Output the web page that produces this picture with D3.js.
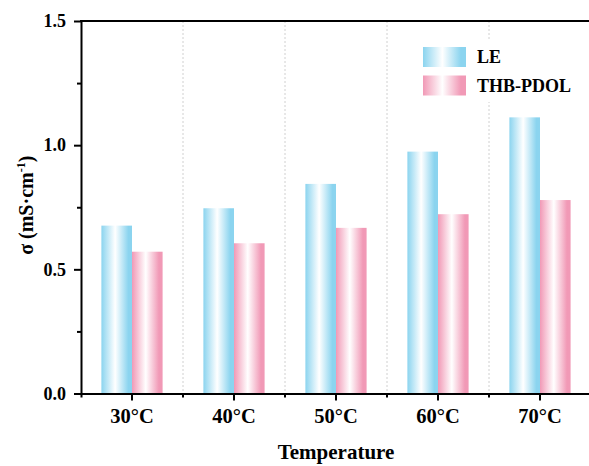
<!DOCTYPE html>
<html>
<head>
<meta charset="utf-8">
<script src="https://cdn.jsdelivr.net/npm/d3@7"></script>
<style>
  html, body { margin: 0; padding: 0; background: #fff; }
  svg { display: block; }
  text { font-family: "Liberation Serif", "Times New Roman", serif; font-weight: bold; fill: #000; }
</style>
</head>
<body>
<svg id="chart" width="589" height="466"></svg>
<script>
// Ionic conductivity at each temperature
const categories = ["30°C", "40°C", "50°C", "60°C", "70°C"];
const seriesNames = ["LE", "THB-PDOL"];
const leValues = [0.676, 0.746, 0.844, 0.974, 1.112];
const thbValues = [0.571, 0.605, 0.667, 0.722, 0.779];
const yTicks = [0.0, 0.5, 1.0, 1.5];
const yMinorTicks = [0.25, 0.75, 1.25];

const palette = { "LE": "#8bd4ef", "THB-PDOL": "#f199b6" };
const seriesValues = { "LE": leValues, "THB-PDOL": thbValues };

const svg = d3.select("#chart");
const plotL = 81, plotR = 591, plotT = 21, plotB = 393.5;

const x = d3.scaleBand().domain(categories).range([plotL, plotR])
  .paddingInner(0.4).paddingOuter(0.2);
const xs = d3.scaleBand().domain(seriesNames).range([0, x.bandwidth()]);
const y = d3.scaleLinear().domain([0, 1.5]).range([plotB, plotT]);

// horizontal shading gradients for bars
const defs = svg.append("defs");
seriesNames.forEach((name, i) => {
  const g = defs.append("linearGradient").attr("id", "grad" + i)
    .attr("x1", "0%").attr("x2", "100%").attr("y1", "0%").attr("y2", "0%");
  g.append("stop").attr("offset", "0%").attr("stop-color", palette[name]);
  g.append("stop").attr("offset", "45%").attr("stop-color", "#ffffff");
  g.append("stop").attr("offset", "88%").attr("stop-color", palette[name]);
  g.append("stop").attr("offset", "100%").attr("stop-color", palette[name]);
});

// dashed separators between temperature groups
const step = x.step();
const separators = categories.slice(1).map(c => x(c) - (step - x.bandwidth()) / 2);
svg.append("g").selectAll("line").data(separators).join("line")
  .attr("x1", d => d).attr("x2", d => d)
  .attr("y1", plotT).attr("y2", plotB)
  .attr("stroke", "#c4c4c4").attr("stroke-width", 0.8)
  .attr("stroke-dasharray", "2,2");

// bars
const groups = svg.append("g").selectAll("g").data(categories).join("g")
  .attr("transform", c => `translate(${x(c)},0)`);
seriesNames.forEach((name, i) => {
  groups.append("rect")
    .attr("x", xs(name))
    .attr("width", xs.bandwidth())
    .attr("y", (c, j) => y(seriesValues[name][j]))
    .attr("height", (c, j) => plotB - y(seriesValues[name][j]))
    .attr("fill", `url(#grad${i})`);
});

// axes
const yAxis = d3.axisLeft(y).tickValues(yTicks).tickFormat(d3.format(".1f"))
  .tickSize(7).tickPadding(8).tickSizeOuter(0);
const gy = svg.append("g").attr("transform", `translate(${plotL},0)`).call(yAxis);
gy.select(".domain").attr("stroke-width", 2);
gy.selectAll(".tick line").attr("stroke-width", 2);
gy.selectAll(".tick text").style("font-size", "18px");
svg.append("g").attr("transform", `translate(${plotL},0)`)
  .call(d3.axisLeft(y).tickValues(yMinorTicks).tickSize(4).tickFormat(""))
  .call(g => { g.select(".domain").remove(); g.selectAll("line").attr("stroke-width", 2); });

const xAxis = d3.axisBottom(x).tickSize(7).tickPadding(8).tickSizeOuter(4);
const gx = svg.append("g").attr("transform", `translate(0,${plotB})`).call(xAxis);
gx.select(".domain").attr("stroke-width", 2);
gx.selectAll(".tick line").attr("stroke-width", 2);
gx.selectAll(".tick text").style("font-size", "20.5px");
svg.append("g").attr("transform", `translate(0,${plotB})`)
  .selectAll("line").data(separators).join("line")
  .attr("x1", d => d).attr("x2", d => d).attr("y1", 0).attr("y2", 4)
  .attr("stroke", "#000").attr("stroke-width", 2);

// frame top and right
svg.append("line").attr("x1", plotL - 1).attr("x2", plotR).attr("y1", plotT).attr("y2", plotT)
  .attr("stroke", "#000").attr("stroke-width", 2);
svg.append("line").attr("x1", plotR).attr("x2", plotR).attr("y1", plotT).attr("y2", plotB)
  .attr("stroke", "#000").attr("stroke-width", 2);

// axis titles
svg.append("text").attr("x", (plotL + plotR) / 2).attr("y", 459)
  .attr("text-anchor", "middle").style("font-size", "21px").text("Temperature");
const yt = svg.append("text")
  .attr("transform", `translate(33,${(plotT + plotB) / 2 - 2}) rotate(-90)`)
  .attr("text-anchor", "middle").style("font-size", "20px");
yt.append("tspan").text("σ (mS·cm");
yt.append("tspan").attr("dy", -8).style("font-size", "12px").text("-1");
yt.append("tspan").attr("dy", 8).text(")");

// legend
const lg = svg.append("g").attr("transform", "translate(415,40)");
lg.append("rect").attr("x", 0).attr("y", 0).attr("width", 170).attr("height", 62).attr("fill", "#fff");
seriesNames.forEach((name, i) => {
  const row = lg.append("g").attr("transform", `translate(8,${7 + i * 28.5})`);
  row.append("rect").attr("width", 43).attr("height", 20).attr("fill", `url(#grad${i})`);
  row.append("text").attr("x", 54).attr("y", 16).style("font-size", "18px").text(name);
});
</script>
</body>
</html>
